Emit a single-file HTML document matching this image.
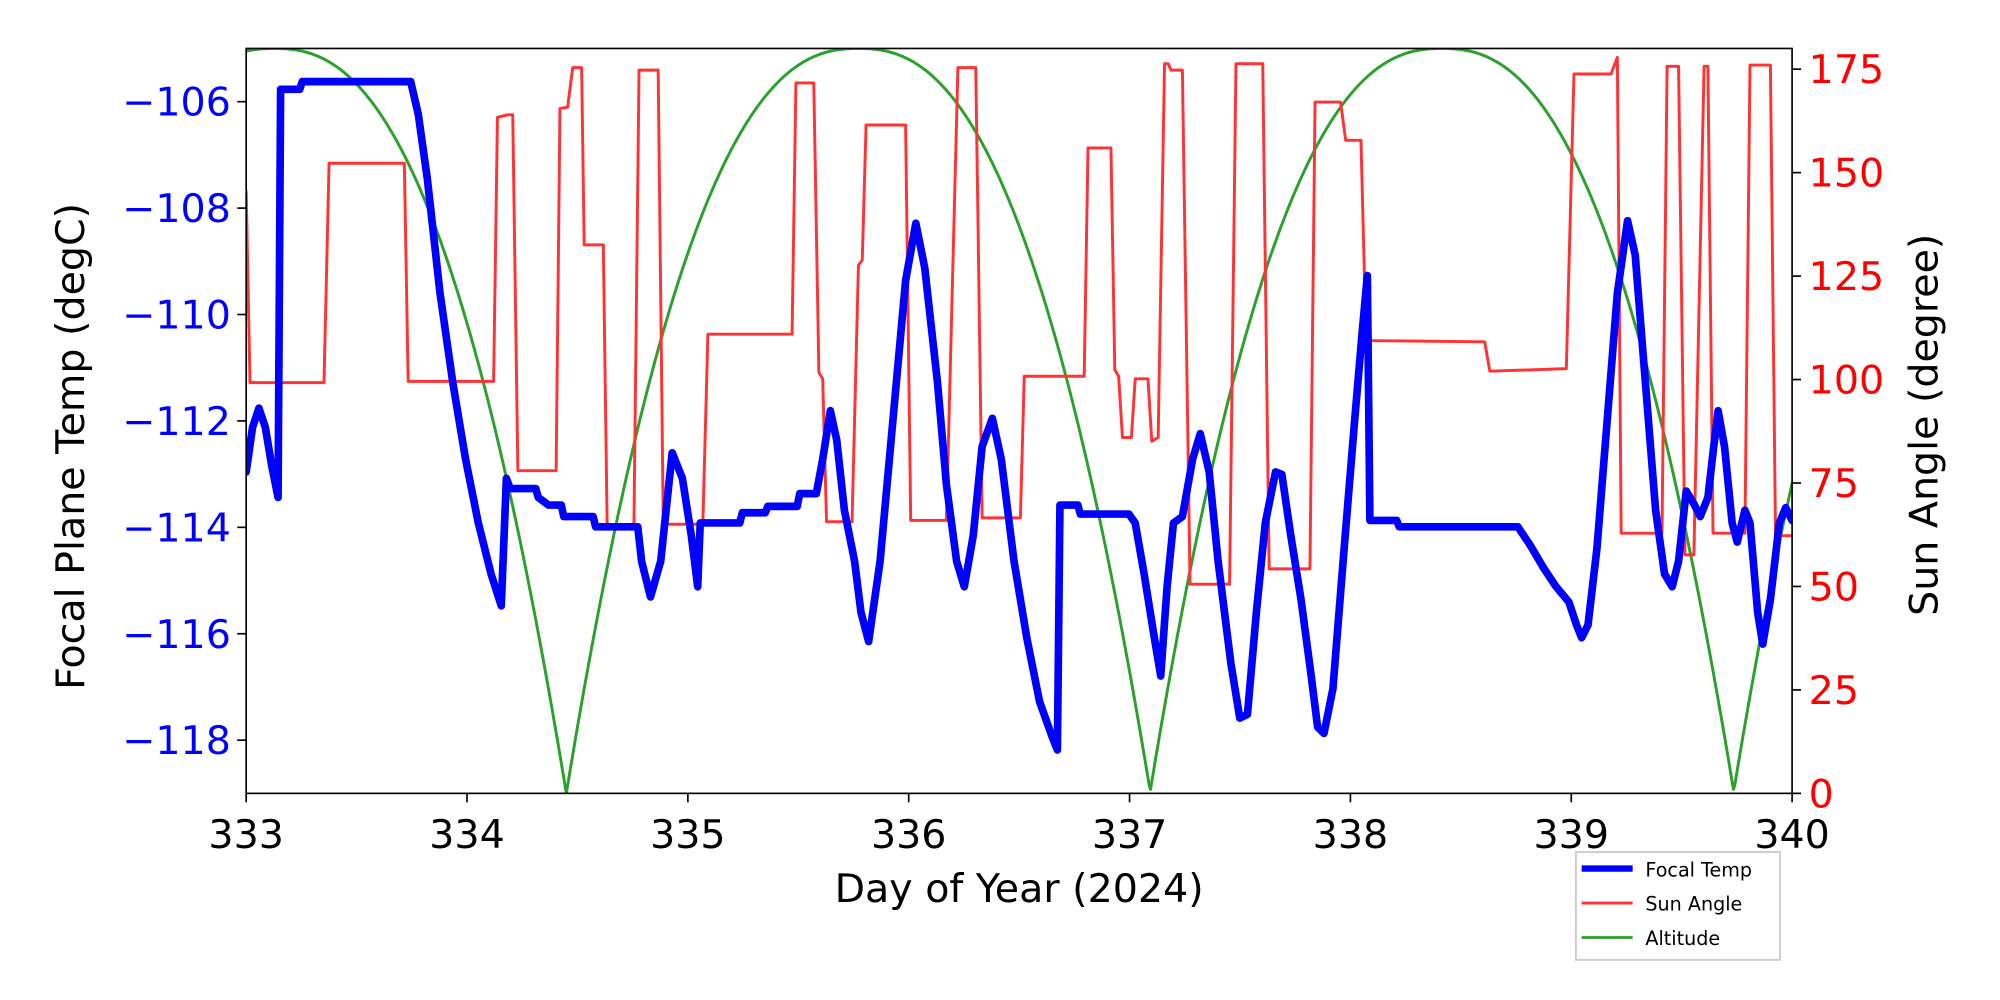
<!DOCTYPE html>
<html><head><meta charset="utf-8"><style>
html,body{margin:0;padding:0;background:#fff;width:2000px;height:1000px;overflow:hidden}
svg{display:block}
text{font-family:"DejaVu Sans","Liberation Sans",sans-serif}
</style></head><body>
<svg id="s" width="2000" height="1000" viewBox="0 0 1568 784" xmlns="http://www.w3.org/2000/svg">
<rect width="1568" height="784" fill="#fff"/>
<defs><clipPath id="c"><rect x="193" y="38" width="1212" height="584"/></clipPath></defs>
<g clip-path="url(#c)" fill="none" stroke-linejoin="round" stroke-linecap="round">
<path id="alt" stroke="#2ca02c" stroke-width="2.3"/>
<polyline stroke="#ff3333" stroke-width="2.3" points="193,150 196,300 254,300 258,128 317,128 320,299 387,299 390,92 398,90 402,90 406,369 436,369 439,85 445,84 449,53 456,53 458,192 473,192 476,412 497,412 501,55 516,55 520,411 551,411 555,262 621,262 624,65 638,65 642,292 645,297 648,409 668,409 673,208 676,204 679,98 710,98 714,408 742,408 751,53 765,53 767,192 770,406 800,406 803,295 850,295 853,116 871,116 874,290 877,295 880,343 887,343 890,297 900,297 903,346 908,343 913,50 916,50 918,55 927,55 933,458 964,458 969,50 990,50 995,446 1027,446 1031,80 1051,80 1055,110 1067,110 1071,267 1164,268 1168,291 1228,289 1234,58 1263,58 1268,45 1271,418 1303,418 1307,52 1316,52 1321,435 1328,435 1336,52 1339,52 1343,418 1368,418 1372,51 1388,51 1392,420 1405,420"/>
<polyline stroke="#0000ff" stroke-width="6" points="193,370 198,335 203,320 208,335 213,365 218,390 220,70 235,70 237,64 322,64 328,90 335,140 345,230 355,300 365,360 375,410 385,450 393,475 397,375 400,383 420,383 422,390 430,396 440,396 442,405 465,405 467,413 500,413 503,440 510,468 518,440 527,355 535,375 542,420 547,460 549,410 580,410 582,402 600,402 602,397 625,397 627,387 640,387 645,360 651,322 656,345 662,400 670,440 675,480 681,503 690,440 700,330 710,220 718,175 725,210 735,300 742,380 750,440 756,460 763,420 770,350 778,328 785,360 795,440 805,500 815,550 825,578 829,588 831,396 845,396 847,403 885,403 890,410 897,450 905,500 910,530 915,460 920,410 927,405 935,360 941,340 948,370 955,440 965,520 972,563 978,560 985,480 992,410 1000,370 1005,372 1012,420 1020,470 1028,530 1033,570 1038,575 1045,540 1053,440 1062,330 1068,260 1072,216 1074,408 1095,408 1097,413 1190,413 1200,428 1210,445 1220,460 1230,472 1236,490 1240,500 1245,490 1252,430 1260,330 1268,230 1276,173 1282,200 1290,300 1298,400 1305,450 1311,460 1316,440 1322,385 1328,395 1333,405 1339,390 1343,355 1347,322 1352,350 1358,410 1362,425 1368,400 1372,410 1378,480 1382,505 1388,470 1395,410 1400,398 1405,408"/>
</g>
<rect x="193" y="38" width="1212" height="584" fill="none" stroke="#000" stroke-width="1.3"/>
<g id="ticks" stroke="#000" stroke-width="1.3"></g>
<g id="lbl"></g>
<text x="799" y="707" font-size="31" text-anchor="middle">Day of Year (2024)</text>
<text transform="translate(66,350) rotate(-90)" font-size="31" text-anchor="middle">Focal Plane Temp (degC)</text>
<text transform="translate(1519,333) rotate(-90)" font-size="31" text-anchor="middle">Sun Angle (degree)</text>
<rect x="1235.5" y="668" width="160" height="84.5" fill="#fff" stroke="#ccc" stroke-width="1.5"/>
<line x1="1240" y1="681" x2="1280" y2="681" stroke="#0000ff" stroke-width="5"/>
<line x1="1240" y1="708" x2="1280" y2="708" stroke="#ff3333" stroke-width="2.2"/>
<line x1="1240" y1="735" x2="1280" y2="735" stroke="#2ca02c" stroke-width="2.2"/>
<text x="1290" y="687" font-size="15">Focal Temp</text>
<text x="1290" y="714" font-size="15">Sun Angle</text>
<text x="1290" y="741" font-size="15">Altitude</text>
</svg>
<script>
(function(){
var NS="http://www.w3.org/2000/svg";
var peaks=[215-458,215,673,1130.5,1588],hw=229,d="";
for(var x=193;x<=1405;x+=1){
  var best=1e9;for(var i=0;i<peaks.length;i++){var dd=Math.abs(x-peaks[i]);if(dd<best)best=dd;}
  var f=1-Math.pow(Math.min(best/hw,1),2.4);
  var y=622-584*f;
  d+=(x==193?"M":"L")+x+","+y.toFixed(1);
}
document.getElementById("alt").setAttribute("d",d);
var tk=document.getElementById("ticks"),lb=document.getElementById("lbl");
function ln(x1,y1,x2,y2){var l=document.createElementNS(NS,"line");l.setAttribute("x1",x1);l.setAttribute("y1",y1);l.setAttribute("x2",x2);l.setAttribute("y2",y2);tk.appendChild(l);}
function tx(x,y,s,a,c,fs){var t=document.createElementNS(NS,"text");t.setAttribute("x",x);t.setAttribute("y",y);t.setAttribute("text-anchor",a);t.setAttribute("fill",c);t.setAttribute("font-size",fs);t.textContent=s;lb.appendChild(t);}
for(var k=0;k<=7;k++){var X=193+k*1212/7;ln(X,622,X,629);tx(X,665,String(333+k),"middle","#000",31);}
for(var T=-106;T>=-118;T-=2){var Y=38+(-105-T)*584/14;ln(186,Y,193,Y);tx(181,Y+11,"\u2212"+(-T),"end","#0000ff",31);}
for(var a=0;a<=175;a+=25){var Y2=622-a*584/180;ln(1405,Y2,1412,Y2);tx(1418,Y2+11,String(a),"start","#ff0000",31);}
})();
</script>
</body></html>
